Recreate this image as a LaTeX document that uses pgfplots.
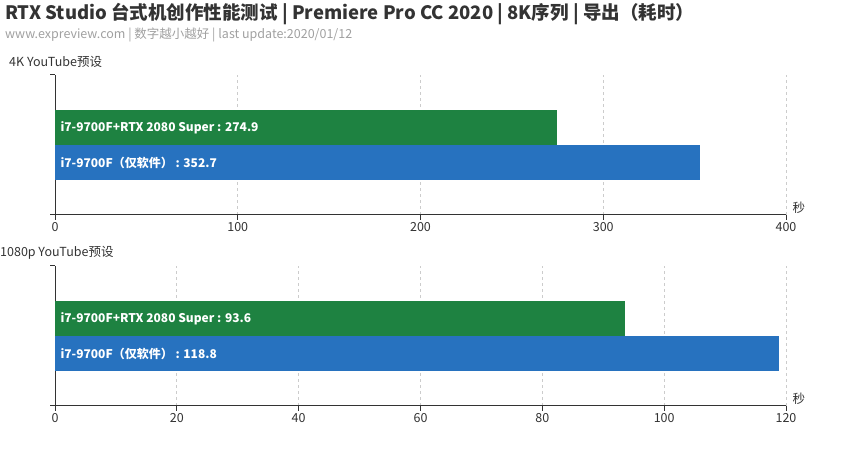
\documentclass[border=0pt]{standalone}
\usepackage{pgfplots}
\pgfplotsset{compat=1.18}
\usepackage{fontspec}
\setmainfont{Noto Sans CJK SC}

\definecolor{gbar}{HTML}{1E8241}
\definecolor{bbar}{HTML}{2772BF}
\definecolor{axisc}{HTML}{333333}
\definecolor{gridc}{HTML}{CCCCCC}
\definecolor{subc}{HTML}{A0A0A0}

\pgfplotsset{
  panel/.style={
    scale only axis, width=731pt, height=140pt,
    anchor=south west,
    xmin=0, ymin=0, ymax=4,
    axis x line*=bottom, axis y line*=left,
    axis line style={axisc, line width=1pt, -},
    tick align=outside, major tick length=5pt,
    tick style={axisc, line width=1pt},
    ytick={0,4}, yticklabels={},
    xmajorgrids, grid style={gridc, dashed, line width=0.8pt},
    xticklabel style={font=\fontsize{12.5}{14}\selectfont, text=axisc, inner sep=2pt},
    /pgf/number format/assume math mode=true,
    xlabel={秒},
    xlabel style={at={(rel axis cs:1,0)}, anchor=west, xshift=3pt, yshift=7pt,
      font=\fontsize{12.5}{14}\selectfont, text=axisc},
    xbar, bar width=1, bar shift=0pt,
    clip=false,
  },
  lbl/.style={draw=none, fill=none, nodes near coords, point meta=explicit symbolic,
    nodes near coords style={anchor=west, text=white, xshift=2pt,
      font=\bfseries\fontsize{12}{14}\selectfont}},
}

\begin{document}
\begin{tikzpicture}
\path[use as bounding box] (0,0) rectangle (846pt,470pt);

\node[anchor=west, inner sep=0pt, font=\bfseries\fontsize{18.5}{20}\selectfont, text=axisc]
  at (5pt,456pt) {RTX Studio 台式机创作性能测试 | Premiere Pro CC 2020 | 8K序列 | 导出（耗时）};
\node[anchor=west, inner sep=0pt, font=\fontsize{12.5}{14}\selectfont, text=subc]
  at (5pt,435pt) {www.expreview.com | 数字越小越好 | last update:2020/01/12};
\node[anchor=west, inner sep=0pt, font=\fontsize{12.5}{14}\selectfont, text=axisc]
  at (9pt,408pt) {4K YouTube预设};
\node[anchor=west, inner sep=0pt, font=\fontsize{12.5}{14}\selectfont, text=axisc]
  at (0pt,217pt) {1080p YouTube预设};

% 4K
\begin{axis}[panel, at={(55pt,255pt)}, xmax=400, xtick={0,100,...,400}]
\addplot[fill=gbar, draw=none] coordinates {(274.9,2.5)};
\addplot[fill=bbar, draw=none] coordinates {(352.7,1.5)};
\addplot[lbl] coordinates {
  (0,2.5) [i7-9700F+RTX 2080 Super : 274.9]
  (0,1.5) [i7-9700F（仅软件） : 352.7]
};
\end{axis}

% 1080p
\begin{axis}[panel, at={(55pt,64pt)}, xmax=120, xtick={0,20,...,120}]
\addplot[fill=gbar, draw=none] coordinates {(93.6,2.5)};
\addplot[fill=bbar, draw=none] coordinates {(118.8,1.5)};
\addplot[lbl] coordinates {
  (0,2.5) [i7-9700F+RTX 2080 Super : 93.6]
  (0,1.5) [i7-9700F（仅软件） : 118.8]
};
\end{axis}
\end{tikzpicture}
\end{document}
